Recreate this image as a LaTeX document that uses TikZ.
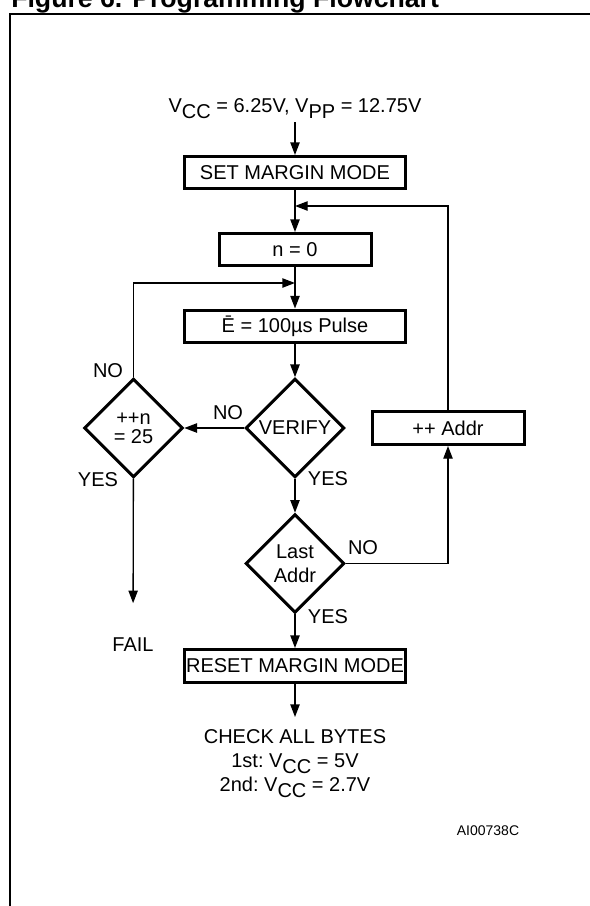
\documentclass[tikz,border=0pt]{standalone}
\usepackage{fontspec}
\setmainfont{Liberation Sans}
\usetikzlibrary{shapes.geometric,arrows.meta}

\newcommand{\lowtxt}[1]{\raisebox{-4.5pt}{#1}}

\tikzset{
  stepbox/.style={rectangle, draw, line width=2.25pt, minimum height=24pt, inner sep=0pt},
  decision/.style={diamond, draw, line width=2.25pt, minimum width=74pt, minimum height=74pt, inner sep=0pt, align=center},
  arr/.style={-{Triangle[length=9.5pt,width=7pt]}, line width=1pt},
}

\begin{document}
\begin{tikzpicture}[x=0.75pt, y=-0.75pt, font=\fontsize{15}{18}\selectfont\frenchspacing]
			\useasboundingbox (0,0) rectangle (589,906);
			% Frame and title
			\draw[line width=1.5pt] (10,930) -- (10,14) -- (610,14);
			\node[anchor=base west, inner sep=0pt, font=\fontsize{20}{24}\selectfont\bfseries] (title) at (11,8) {Figure 6. Programming Flowchart};

			% Nodes
			\node[anchor=base, inner sep=2pt] (supply) at (295,113) {V\lowtxt{CC} = 6.25V, V\lowtxt{PP} = 12.75V};
			\node[stepbox, minimum width=166pt] (setmode) at (295,172.5) {SET MARGIN MODE};
			\node[stepbox, minimum width=114pt] (nzero) at (295,249.5) {n = 0};
			\node[stepbox, minimum width=166pt] (pulse) at (295,326) {\=E = 100µs Pulse};
			\node[decision] (verify) at (295,428) {VERIFY};
			\node[decision, font=\fontsize{15}{14.3}\selectfont] (count) at (133.5,428) {++n\\= 25};
			\node[decision] (last) at (295,563.5) {Last\\Addr};
			\node[stepbox, minimum width=114pt, minimum height=24.75pt] (incaddr) at (448,428) {++ Addr};
			\node[stepbox, minimum width=166pt, minimum height=24.75pt] (resetmode) at (295,666) {RESET MARGIN MODE};
			\node[anchor=north, align=center, inner sep=0pt] (check) at (295,729) {CHECK ALL BYTES\\1st: V\lowtxt{CC} = 5V\\2nd: V\lowtxt{CC} = 2.7V};
			\node[inner sep=0pt] (fail) at (133,645) {FAIL};
			\node[font=\fontsize{10.5}{12}\selectfont] (code) at (488,831) {AI00738C};

			% Labels
			\node (nocount) at (108,371) {NO};
			\node (yescount) at (98,480) {YES};
			\node (noverify) at (228,413) {NO};
			\node (yesverify) at (328,479) {YES};
			\node (nolast) at (363,548) {NO};
			\node (yeslast) at (328,617) {YES};

			\coordinate (jtop) at (295,206);
			\coordinate (jleft) at (295,283);

			% Arrows
			\draw[arr] (supply.south) -- (setmode);
			\draw[arr] (setmode) -- (nzero);
			\draw[arr] (incaddr) |- (jtop);
			\draw[arr] (nzero) -- (pulse);
			\draw[arr] (count) |- (jleft);
			\draw[arr] (pulse) -- (verify);
			\draw[arr] (verify) -- (count);
			\draw[arr] (verify) -- (last);
			\draw[arr] (last) -| (incaddr);
			\draw[arr] (last) -- (resetmode);
			\draw[arr, shorten >=9pt] (resetmode) -- (check);
			\draw[arr, shorten >=26pt] (count) -- (fail);
		\end{tikzpicture}
\end{document}
